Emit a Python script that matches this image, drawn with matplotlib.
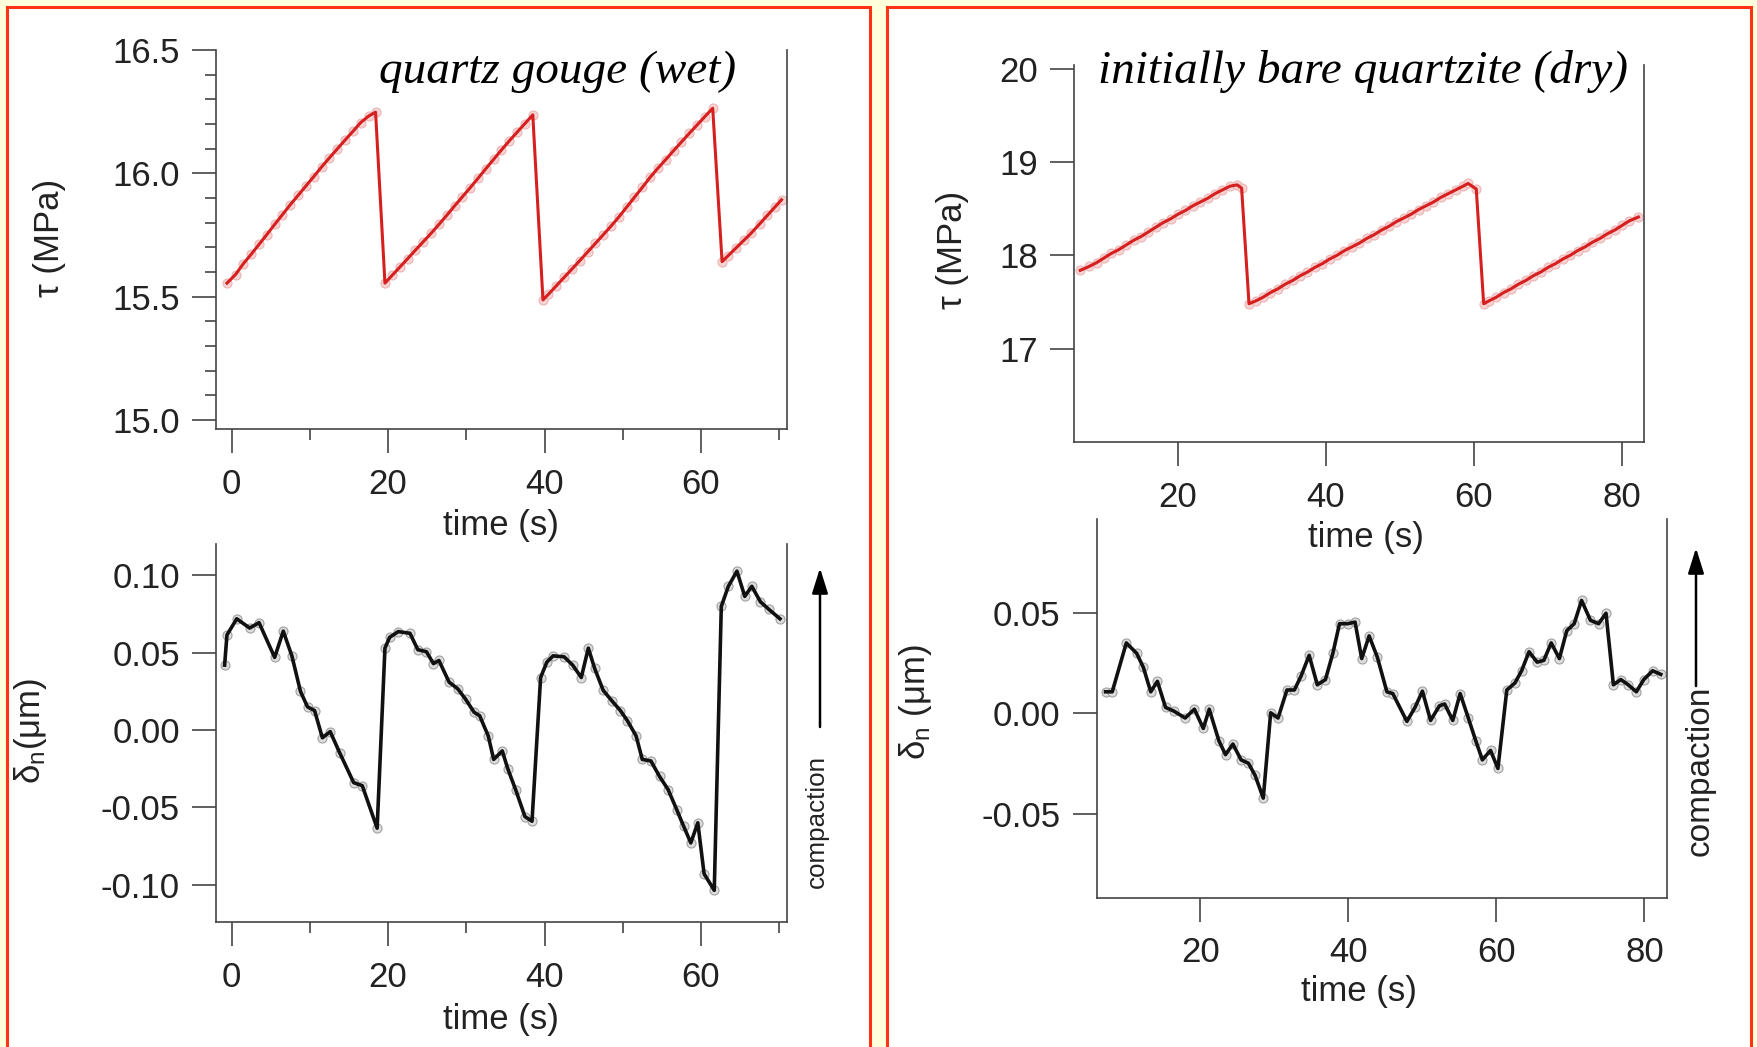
# Stick-slip friction panels: shear stress and normal displacement vs time

import matplotlib
matplotlib.use("Agg")
import matplotlib.pyplot as plt
from matplotlib.patches import Rectangle, FancyArrowPatch
from matplotlib.ticker import FixedLocator, MultipleLocator, FormatStrFormatter

plt.rcParams['font.family'] = ['Liberation Sans', 'DejaVu Sans']
plt.rcParams['axes.unicode_minus'] = False
plt.rcParams['mathtext.fontset'] = 'custom'
plt.rcParams['mathtext.rm'] = 'Liberation Sans'
plt.rcParams['mathtext.it'] = 'Liberation Sans'

W, H = 1758, 1047
FS = 25  # tick / axis label size

# --- quartz gouge (wet): shear stress ---
t_wet_tau = [-0.6, 0.5, 1.5, 2.5, 3.5, 4.5, 5.5, 6.5, 7.5, 8.5, 9.5, 10.5, 11.5, 12.5,
             13.5, 14.5, 15.5, 16.5, 17.5, 18.4,
             19.6, 20.5, 21.5, 22.5, 23.5, 24.5, 25.5, 26.5, 27.5, 28.5, 29.5, 30.5,
             31.5, 32.5, 33.5, 34.5, 35.5, 36.5, 37.5, 38.5,
             39.8, 40.5, 41.5, 42.5, 43.5, 44.5, 45.5, 46.5, 47.5, 48.5, 49.5, 50.5,
             51.5, 52.5, 53.5, 54.5, 55.5, 56.5, 57.5, 58.5, 59.5, 60.5, 61.5,
             62.7, 63.5, 64.5, 65.5, 66.4, 67.5, 68.5, 69.5, 70.3]
tau_wet = [15.555, 15.59, 15.634, 15.672, 15.712, 15.752, 15.793, 15.833, 15.873, 15.911,
           15.949, 15.987, 16.026, 16.063, 16.099, 16.135, 16.17, 16.206, 16.232, 16.248,
           15.555, 15.586, 15.62, 15.654, 15.689, 15.723, 15.757, 15.793, 15.83, 15.868,
           15.905, 15.942, 15.98, 16.019, 16.057, 16.095, 16.132, 16.167, 16.202, 16.237,
           15.487, 15.51, 15.544, 15.578, 15.612, 15.646, 15.681, 15.716, 15.751, 15.786,
           15.823, 15.863, 15.903, 15.943, 15.984, 16.021, 16.056, 16.092, 16.127, 16.162,
           16.196, 16.23, 16.264,
           15.642, 15.667, 15.698, 15.729, 15.757, 15.795, 15.83, 15.865, 15.893]

# --- quartz gouge (wet): normal displacement ---
t_wet_dn = [-0.9, -0.6, 0.65, 2.3, 3.5, 5.5, 6.6, 7.7, 8.8, 9.7, 10.6, 11.6, 12.6, 13.8,
            15.6, 16.7, 18.6,
            19.6, 20.2, 21.3, 22.8, 23.8, 24.9, 25.8, 26.5, 27.8, 28.9, 29.9, 31.0, 31.7,
            32.8, 33.5, 34.6, 35.3, 36.3, 37.5, 38.4,
            39.5, 40.3, 41.1, 42.5, 43.6, 44.7, 45.6, 46.4, 47.5, 48.6, 49.7, 50.6, 51.7,
            52.5, 53.6, 54.7, 55.8, 56.9, 57.8, 58.7, 59.6, 60.4, 61.7,
            62.6, 63.5, 64.6, 65.6, 66.5, 67.6, 68.7, 70.1]
dn_wet = [0.042, 0.0615, 0.072, 0.066, 0.0695, 0.047, 0.064, 0.048, 0.025, 0.015, 0.0126,
          -0.005, -0.001, -0.0146, -0.034, -0.036, -0.0635,
          0.053, 0.060, 0.0637, 0.0626, 0.052, 0.0507, 0.043, 0.045, 0.031, 0.0267, 0.020,
          0.0115, 0.0093, -0.0037, -0.019, -0.0135, -0.025, -0.0385, -0.056, -0.059,
          0.034, 0.044, 0.048, 0.0474, 0.042, 0.034, 0.053, 0.040, 0.0257, 0.019, 0.0126,
          0.006, -0.0037, -0.019, -0.020, -0.030, -0.0385, -0.0515, -0.0624, -0.073,
          -0.060, -0.093, -0.1037,
          0.080, 0.093, 0.1028, 0.0865, 0.093, 0.083, 0.078, 0.072]

# --- initially bare quartzite (dry): shear stress ---
t_dry_tau = [6.8, 8, 9, 10, 11, 12, 13, 14, 15, 16, 17, 18, 19, 20, 21, 22, 23, 24, 25, 26,
             27, 28, 28.6,
             29.6, 30.5, 31.5, 32.5, 33.5, 34.5, 35.5, 36.5, 37.5, 38.5, 39.5, 40.5, 41.5,
             42.5, 43.5, 44.5, 45.5, 46.5, 47.5, 48.5, 49.5, 50.5, 51.5, 52.5, 53.5, 54.5,
             55.5, 56.5, 57.5, 58.5, 59.2, 60.3,
             61.3, 62, 63, 64, 65, 66, 67, 68, 69, 70, 71, 72, 73, 74, 75, 76, 77, 78, 79,
             80, 81, 82.2]
tau_dry = [17.838, 17.88, 17.92, 17.97, 18.02, 18.06, 18.11, 18.16, 18.20, 18.25, 18.30,
           18.35, 18.39, 18.44, 18.48, 18.53, 18.57, 18.61, 18.66, 18.70, 18.74, 18.755,
           18.72,
           17.48, 17.51, 17.55, 17.60, 17.64, 17.69, 17.73, 17.78, 17.82, 17.87, 17.91,
           17.96, 18.00, 18.05, 18.09, 18.13, 18.18, 18.22, 18.27, 18.31, 18.36, 18.40,
           18.44, 18.49, 18.53, 18.57, 18.62, 18.66, 18.70, 18.74, 18.77, 18.71,
           17.48, 17.51, 17.55, 17.60, 17.64, 17.69, 17.73, 17.78, 17.82, 17.87, 17.91,
           17.96, 18.00, 18.05, 18.09, 18.14, 18.18, 18.23, 18.27, 18.32, 18.37, 18.41]

# --- initially bare quartzite (dry): normal displacement ---
t_dry_dn = [7.2, 8.1, 10.0, 11.4, 12.3, 13.3, 14.2, 15.3, 16.4, 17.95, 19.2, 20.4, 21.2,
            22.5, 23.4, 24.4, 25.5, 26.5, 27.4, 28.5,
            29.5, 30.5, 31.7, 32.7, 33.6, 34.7, 35.8, 36.9, 37.9, 38.8, 39.9, 40.9, 41.8,
            42.8, 43.9, 45.2, 46.0, 47.9, 49.0, 50.0, 51.1, 52.3, 53.0, 54.1, 55.1, 56.2,
            57.2, 58.1, 59.2, 60.2,
            61.4, 62.5, 63.4, 64.4, 65.5, 66.4, 67.4, 68.5, 69.5, 70.5, 71.5, 72.7, 73.8,
            74.8, 75.8, 76.8, 77.8, 78.9, 79.9, 81.1, 82.2]
dn_dry = [0.0108, 0.0108, 0.0352, 0.030, 0.023, 0.0108, 0.016, 0.003, 0.0012, -0.0023,
          0.0021, -0.0075, 0.0021, -0.0136, -0.0206, -0.0153, -0.0232, -0.0249, -0.031,
          -0.0423,
          0.0003, -0.0023, 0.0117, 0.0117, 0.0186, 0.029, 0.0143, 0.0169, 0.030, 0.0448,
          0.0448, 0.0456, 0.0274, 0.0387, 0.0282, 0.0108, 0.0099, -0.004, 0.003, 0.0111,
          -0.0035, 0.0038, 0.0047, -0.0035, 0.0099, -0.0023, -0.0136, -0.0232, -0.0185,
          -0.0275,
          0.0117, 0.0152, 0.0213, 0.0308, 0.0256, 0.0265, 0.0352, 0.0274, 0.0413, 0.0448,
          0.0564, 0.0465, 0.0448, 0.050, 0.0143, 0.0169, 0.0143, 0.0108, 0.0169, 0.0213,
          0.0195]

TEXT = '#222222'
AXC = '#444444'


def px_axes(fig, left, right, top, bottom):
    """Axes placed by pixel edges (top-origin)"""
    return fig.add_axes([left / W, 1 - bottom / H, (right - left) / W, (bottom - top) / H])


def style_axes(ax, xlim, ylim, yticks, yfmt, xminor=None, yminor=None):
    ax.set_xlim(*xlim)
    ax.set_ylim(*ylim)
    ax.spines['top'].set_visible(False)
    for s in ['left', 'bottom', 'right']:
        ax.spines[s].set_color(AXC)
        ax.spines[s].set_linewidth(1.2)
    ax.xaxis.set_major_locator(MultipleLocator(20))
    ax.yaxis.set_major_locator(FixedLocator(yticks))
    ax.yaxis.set_major_formatter(FormatStrFormatter(yfmt))
    if xminor:
        ax.xaxis.set_minor_locator(MultipleLocator(xminor))
    if yminor:
        ax.yaxis.set_minor_locator(MultipleLocator(yminor))
    ax.tick_params(which='major', direction='out', length=17, width=1.2, color=AXC,
                   labelsize=FS, labelcolor=TEXT)
    ax.tick_params(axis='y', which='major', pad=9)
    ax.tick_params(axis='x', which='major', pad=11)
    ax.tick_params(which='minor', direction='out', length=8, width=1.2, color=AXC)


def draw_curve(ax, t, v, line_color, lw, mfc, mec):
    # faint circle markers under the trace
    ax.plot(t, v, linestyle='none', marker='o', ms=6.5, mfc=mfc, mec=mec, mew=0.8, zorder=2)
    ax.plot(t, v, color=line_color, lw=lw, zorder=3)


fig = plt.figure(figsize=(W / 100, H / 100), dpi=100, facecolor='#FFFFDC')

# red panel frames (open at the bottom)
for x0, x1 in [(7, 870), (887, 1751)]:
    fig.add_artist(Rectangle((x0 / W, -0.05), (x1 - x0) / W, 1.05 - 7 / H,
                             transform=fig.transFigure, facecolor='white',
                             edgecolor='#FF3311', lw=2.2, zorder=-5))

# top left: wet gouge shear stress
ax1 = px_axes(fig, 216, 787, 50, 428.7)
draw_curve(ax1, t_wet_tau, tau_wet, '#D62020', 2.2, '#F6D4D4', '#ECB4B4')
style_axes(ax1, (-2, 71), (14.965, 16.5), [15.0, 15.5, 16.0, 16.5], '%.1f',
           xminor=10, yminor=0.1)

# bottom left: wet gouge normal displacement
ax2 = px_axes(fig, 216, 787, 543.5, 921.7)
draw_curve(ax2, t_wet_dn, dn_wet, '#111111', 2.6, '#DDDDDD', '#A0A0A0')
style_axes(ax2, (-2, 71), (-0.124, 0.1207), [-0.10, -0.05, 0.0, 0.05, 0.10], '%.2f',
           xminor=10)

# top right: dry quartzite shear stress
ax3 = px_axes(fig, 1074.3, 1644.3, 65, 441.8)
draw_curve(ax3, t_dry_tau, tau_dry, '#D62020', 2.2, '#F6D4D4', '#ECB4B4')
style_axes(ax3, (6, 83), (16.0, 20.04), [17, 18, 19, 20], '%d')

# bottom right: dry quartzite normal displacement
ax4 = px_axes(fig, 1096.7, 1666.7, 519.2, 897.6)
draw_curve(ax4, t_dry_dn, dn_dry, '#111111', 2.6, '#DDDDDD', '#A0A0A0')
style_axes(ax4, (6, 83), (-0.092, 0.097), [-0.05, 0.0, 0.05], '%.2f')


def ftext(x, y, s, **kw):
    kw.setdefault('color', TEXT)
    fig.text(x / W, 1 - y / H, s, **kw)


# axis labels
for x, y in [(501, 525), (501, 1019), (1366, 537), (1359, 991)]:
    ftext(x, y, 'time (s)', fontsize=FS, ha='center', va='center')
ftext(50, 238, 'τ (MPa)', fontsize=FS, rotation=90, ha='center', va='center')
ftext(953, 250, 'τ (MPa)', fontsize=FS, rotation=90, ha='center', va='center')
ftext(31, 731, 'δ$_\\mathrm{n}$(μm)', fontsize=FS, rotation=90, ha='center', va='center')
ftext(916, 702, 'δ$_\\mathrm{n}$ (μm)', fontsize=FS, rotation=90, ha='center', va='center')

# panel titles
ftext(379, 83, 'quartz gouge (wet)', fontsize=34, style='italic',
      family='Liberation Serif', color='black', ha='left', va='baseline')
ftext(1098, 83, 'initially bare quartzite (dry)', fontsize=34, style='italic',
      family='Liberation Serif', color='black', ha='left', va='baseline')

# compaction arrows
ftext(817, 821, 'compaction', fontsize=18.7, rotation=90, ha='center', va='center')
ftext(1700, 771, 'compaction', fontsize=24, rotation=90, ha='center', va='center')
for x, y_tip, y_tail in [(820, 568, 727), (1696, 548, 686)]:
    fig.add_artist(FancyArrowPatch(
        (x / W, 1 - y_tail / H), (x / W, 1 - y_tip / H), transform=fig.transFigure,
        arrowstyle='-|>,head_length=0.7,head_width=0.22', mutation_scale=22,
        lw=1.8, color='black', shrinkA=0, shrinkB=0))

plt.savefig('out.png', dpi=100, facecolor=fig.get_facecolor())
plt.close()
